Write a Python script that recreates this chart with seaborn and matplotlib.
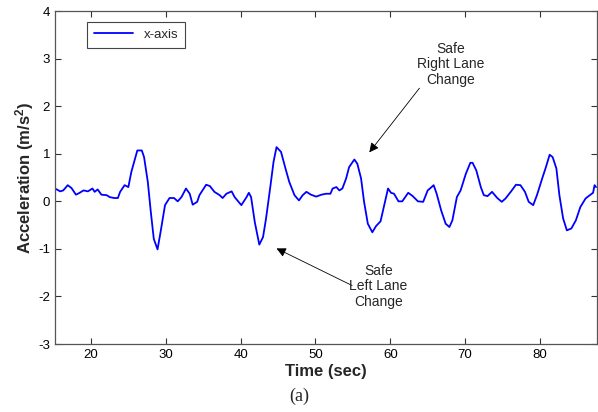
import pandas as pd
import matplotlib
matplotlib.use("Agg")
import matplotlib.pyplot as plt
import seaborn as sns

# --- Data ---
time_sec = [
    15.2, 15.9, 16.3, 16.9, 17.4, 18.0, 18.5, 19.0, 19.6, 20.2, 20.5, 20.9,
    21.4, 22.1, 22.5, 23.1, 23.6, 23.9, 24.5, 25.0, 25.4, 25.9, 26.2, 26.8,
    27.1, 27.6, 28.0, 28.4, 28.9, 29.3, 29.9, 30.5, 31.1, 31.6, 32.1, 32.7,
    33.2, 33.6, 34.2, 34.5, 35.4, 35.9, 36.5, 37.2, 37.6, 38.1, 38.8, 39.2,
    40.1, 40.8, 41.1, 41.4, 41.9, 42.5, 43.0, 43.4, 44.0, 44.4, 44.8, 45.4,
    46.0, 46.5, 47.2, 47.8, 48.3, 48.8, 49.4, 50.1, 50.8, 51.4, 52.0, 52.3,
    52.8, 53.2, 53.6, 54.1, 54.5, 54.8, 55.2, 55.6, 56.1, 56.5, 57.0, 57.6,
    58.1, 58.7, 59.2, 59.7, 60.1, 60.5, 61.1, 61.6, 62.4, 63.0, 63.7, 64.4,
    65.0, 65.3, 65.8, 66.2, 66.8, 67.4, 67.9, 68.3, 68.9, 69.4, 70.1, 70.7,
    71.0, 71.5, 72.1, 72.5, 73.0, 73.6, 74.3, 74.9, 75.4, 76.1, 76.8, 77.4,
    78.0, 78.5, 79.1, 79.6, 80.3, 80.8, 81.3, 81.7, 82.2, 82.6, 83.1, 83.6,
    84.2, 84.8, 85.4, 86.1, 86.5, 87.1, 87.3, 87.5,
]
accel_x = [
    0.27, 0.21, 0.23, 0.34, 0.28, 0.14, 0.18, 0.23, 0.21, 0.27, 0.20, 0.25,
    0.14, 0.13, 0.09, 0.07, 0.07, 0.20, 0.34, 0.30, 0.62, 0.90, 1.07, 1.07,
    0.93, 0.41, -0.22, -0.79, -1.01, -0.65, -0.08, 0.07, 0.07, 0.00, 0.09, 0.27,
    0.16, -0.07, -0.01, 0.13, 0.35, 0.32, 0.20, 0.13, 0.07, 0.16, 0.21, 0.09,
    -0.08, 0.09, 0.18, 0.09, -0.44, -0.91, -0.75, -0.36, 0.34, 0.83, 1.14, 1.04,
    0.69, 0.41, 0.13, 0.02, 0.13, 0.20, 0.14, 0.10, 0.14, 0.16, 0.16, 0.27,
    0.30, 0.23, 0.27, 0.48, 0.72, 0.79, 0.88, 0.79, 0.48, -0.01, -0.47, -0.65,
    -0.52, -0.42, -0.08, 0.27, 0.18, 0.16, 0.00, 0.00, 0.18, 0.11, 0.00, -0.01,
    0.23, 0.27, 0.34, 0.16, -0.19, -0.47, -0.54, -0.40, 0.09, 0.23, 0.58, 0.81,
    0.81, 0.65, 0.30, 0.13, 0.11, 0.20, 0.07, -0.01, 0.06, 0.20, 0.35, 0.34,
    0.20, -0.01, -0.08, 0.13, 0.48, 0.72, 0.98, 0.93, 0.69, 0.13, -0.36, -0.61,
    -0.57, -0.40, -0.12, 0.06, 0.11, 0.18, 0.34, 0.30,
]
x_ticks = [20, 30, 40, 50, 60, 70, 80]
y_ticks = [-3, -2, -1, 0, 1, 2, 3, 4]

df = pd.DataFrame({"Time (sec)": time_sec, "Acceleration": accel_x})

# --- Style ---
sns.set_style("ticks")
plt.rcParams["font.family"] = ["Liberation Sans", "DejaVu Sans"]
plt.rcParams["axes.unicode_minus"] = False
plt.rcParams["mathtext.fontset"] = "custom"
plt.rcParams["mathtext.rm"] = "Liberation Sans:bold"
plt.rcParams["mathtext.it"] = "Liberation Sans:bold"

fig = plt.figure(figsize=(5.98, 4.12), dpi=100)
ax = fig.add_axes([0.092, 0.165, 0.906, 0.808])

sns.lineplot(data=df, x="Time (sec)", y="Acceleration", color="#0000ff",
             linewidth=1.3, label="x-axis", ax=ax, sort=False)

ax.set_xlim(15.2, 87.6)
ax.set_ylim(-3, 4)
ax.set_xticks(x_ticks)
ax.set_yticks(y_ticks)
ax.tick_params(direction="in", top=True, right=True, length=4, width=0.8,
               labelsize=9.5, colors="#333333", labelcolor="black")
for s in ax.spines.values():
    s.set_visible(True)
    s.set_color("#555555")
    s.set_linewidth(0.9)

ax.set_xlabel("Time (sec)", fontsize=12, fontweight="bold", labelpad=2)
ax.set_ylabel("Acceleration (m/s$^2$)", fontsize=12, fontweight="bold")
ax.yaxis.set_label_coords(-0.036, 0.5)

leg = ax.legend(loc="upper left", bbox_to_anchor=(0.059, 0.967), borderaxespad=0,
                fancybox=False, edgecolor="#444444", framealpha=1, fontsize=9.5,
                handlelength=3.0, borderpad=0.5)
leg.get_frame().set_linewidth(0.8)

# --- Annotations ---
arrow = dict(arrowstyle="-|>", color="black", lw=0.6, mutation_scale=14,
             shrinkA=0, shrinkB=0)
ax.annotate("", xy=(57.2, 1.03), xytext=(63.9, 2.38), arrowprops=arrow)
ax.text(68.1, 2.88, "Safe\nRight Lane\nChange", ha="center", va="center",
        fontsize=10, linespacing=1.15)
ax.annotate("", xy=(44.8, -0.99), xytext=(54.9, -1.77), arrowprops=arrow)
ax.text(58.4, -1.79, "Safe\nLeft Lane\nChange", ha="center", va="center",
        fontsize=10, linespacing=1.15)

fig.text(0.5, 0.039, "(a)", ha="center", va="center", fontsize=13,
         family=["Liberation Serif", "DejaVu Serif"])

fig.savefig("out.png", dpi=100)
